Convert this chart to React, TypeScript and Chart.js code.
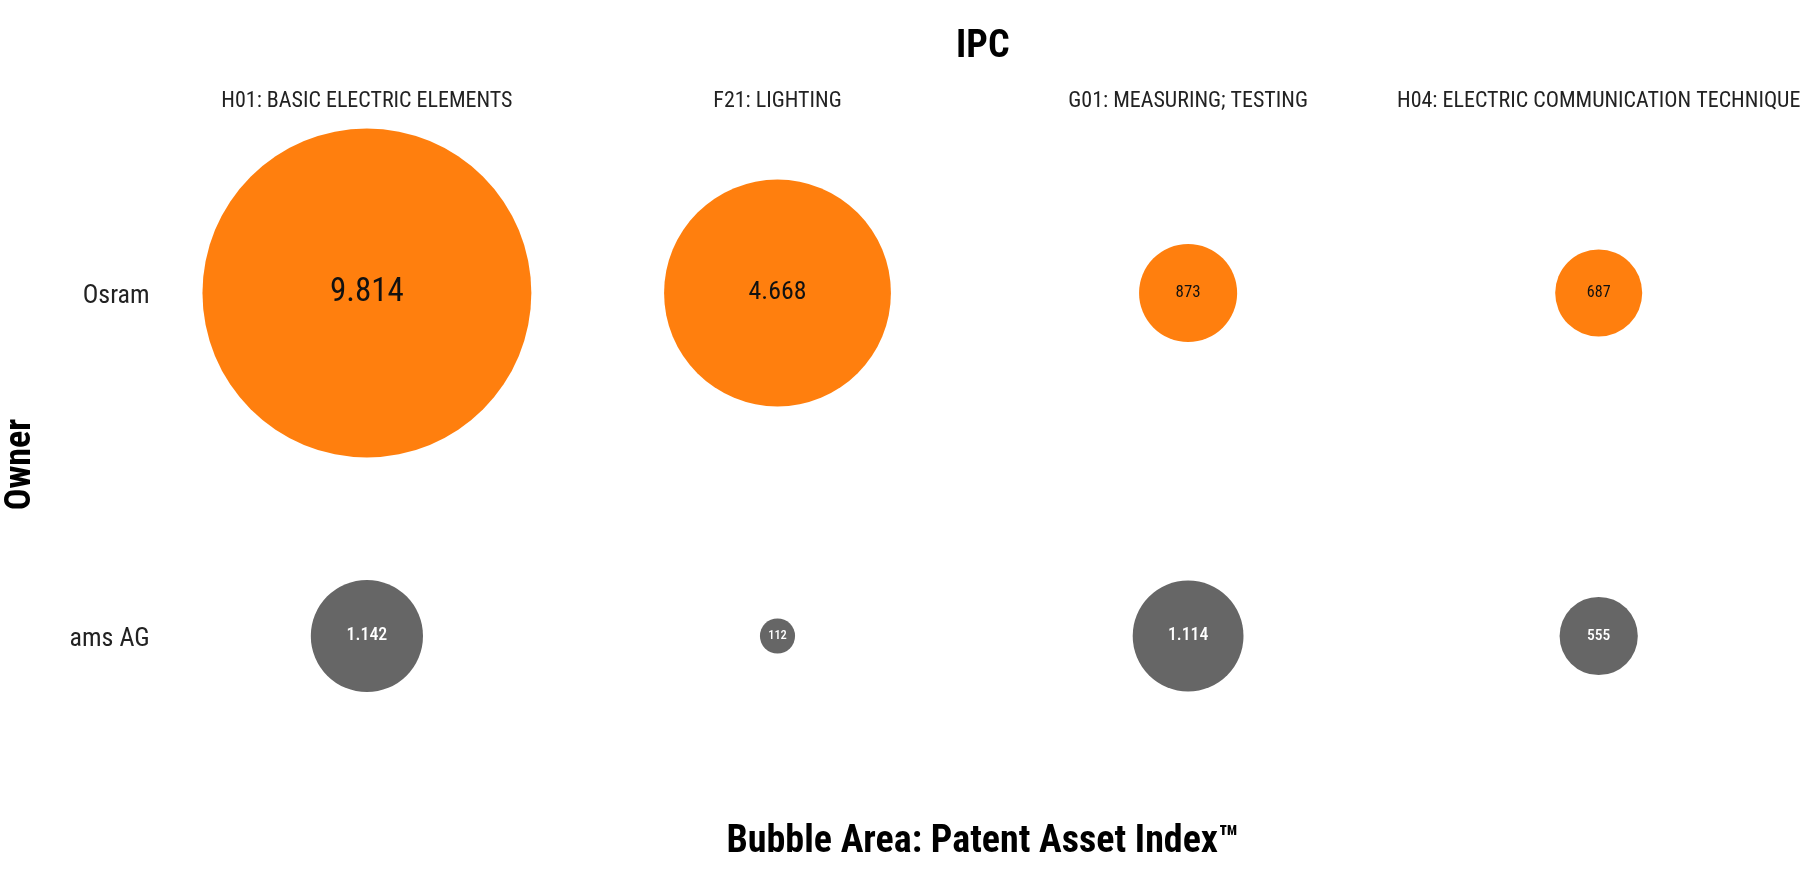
import React, { useEffect, useRef } from 'react';
import { Chart, registerables } from 'chart.js';

Chart.register(...registerables);

const categories = [
  'H01: BASIC ELECTRIC ELEMENTS',
  'F21: LIGHTING',
  'G01: MEASURING; TESTING',
  'H04: ELECTRIC COMMUNICATION TECHNIQUE',
];
const owners = ['Osram', 'ams AG'];
const osramValues = [9814, 4668, 873, 687];
const amsValues = [1142, 112, 1114, 555];

const FONT = "'Roboto Condensed', 'Liberation Sans Narrow', 'Arial Narrow', Roboto, sans-serif";
const RADIUS_SCALE = 1.66;
const radiusFor = (v: number) => RADIUS_SCALE * Math.sqrt(v);
const fmt = (v: number) => String(v).replace(/\B(?=(\d{3})+(?!\d))/g, '.');

const toPoints = (values: number[], owner: string) =>
  values.map((v, i) => ({ x: categories[i], y: owner, r: radiusFor(v), v }));

const valueLabels = {
  id: 'valueLabels',
  afterDatasetsDraw(chart: any) {
    const ctx = chart.ctx;
    chart.data.datasets.forEach((ds: any, di: number) => {
      const meta = chart.getDatasetMeta(di);
      meta.data.forEach((el: any, i: number) => {
        const raw = ds.data[i];
        const r = el.options.radius;
        const size = 10 + 0.14 * r;
        ctx.save();
        ctx.font = `${ds.labelWeight} ${size}px ${FONT}`;
        ctx.fillStyle = ds.labelColor;
        ctx.textAlign = 'center';
        ctx.textBaseline = 'middle';
        ctx.fillText(fmt(raw.v), el.x, el.y);
        ctx.restore();
      });
    });
  },
};

export default function App() {
  const ref = useRef<HTMLCanvasElement | null>(null);
  useEffect(() => {
    document.body.style.margin = '0';
    const chart = new Chart(ref.current as HTMLCanvasElement, {
      type: 'bubble',
      data: {
        datasets: [
          {
            label: 'Osram',
            data: toPoints(osramValues, 'Osram'),
            backgroundColor: '#ff7f0e',
            borderWidth: 0,
            labelColor: '#111111',
            labelWeight: 'normal',
            clip: false,
          } as any,
          {
            label: 'ams AG',
            data: toPoints(amsValues, 'ams AG'),
            backgroundColor: '#666666',
            borderWidth: 0,
            labelColor: '#ffffff',
            labelWeight: '500',
            clip: false,
          } as any,
        ],
      },
      options: {
        animation: false,
        responsive: true,
        maintainAspectRatio: false,
        layout: { padding: 0, autoPadding: false },
        plugins: {
          legend: { display: false },
          tooltip: { enabled: false },
        },
        scales: {
          x: {
            type: 'category',
            labels: categories,
            position: 'top',
            offset: true,
            grid: { display: false, drawTicks: false },
            border: { display: false },
            ticks: {
              font: { family: FONT, size: 22 },
              color: '#222222',
              padding: 7,
              maxRotation: 0,
              minRotation: 0,
              autoSkip: false,
            },
            title: {
              display: true,
              text: 'IPC',
              color: '#000000',
              font: { family: FONT, size: 38, weight: 'bold', lineHeight: 1.2 },
              padding: { top: 25, bottom: 0 },
            },
            afterFit: (s: any) => {
              s.height = 121.5;
              s.paddingLeft = 0;
              s.paddingRight = 0;
            },
          },
          x2: {
            type: 'category',
            labels: categories,
            position: 'bottom',
            offset: true,
            grid: { display: false, drawTicks: false },
            border: { display: false },
            ticks: { display: false },
            title: {
              display: true,
              text: 'Bubble Area: Patent Asset Index™',
              color: '#000000',
              font: { family: FONT, size: 38, weight: 'bold', lineHeight: 1.2 },
              padding: { top: 0, bottom: 5 },
            },
            afterFit: (s: any) => {
              s.height = 62.5;
              s.paddingLeft = 0;
              s.paddingRight = 0;
            },
          },
          y: {
            type: 'category',
            labels: owners,
            offset: true,
            grid: { display: false, drawTicks: false },
            border: { display: false },
            ticks: {
              font: { family: FONT, size: 26 },
              color: '#222222',
              padding: 12,
              labelOffset: 3,
            },
            title: {
              display: true,
              text: 'Owner',
              color: '#000000',
              font: { family: FONT, size: 36, weight: 'bold', lineHeight: 1 },
              padding: { top: 3, bottom: 0 },
            },
            afterFit: (s: any) => {
              s.width = 161.6;
              s.paddingTop = 0;
              s.paddingBottom = 0;
            },
          },
        },
      } as any,
      plugins: [valueLabels],
    });
    return () => chart.destroy();
  }, []);
  return (
    <div style={{ width: '1804px', height: '870px', position: 'relative' }}>
      <canvas ref={ref} />
    </div>
  );
}
